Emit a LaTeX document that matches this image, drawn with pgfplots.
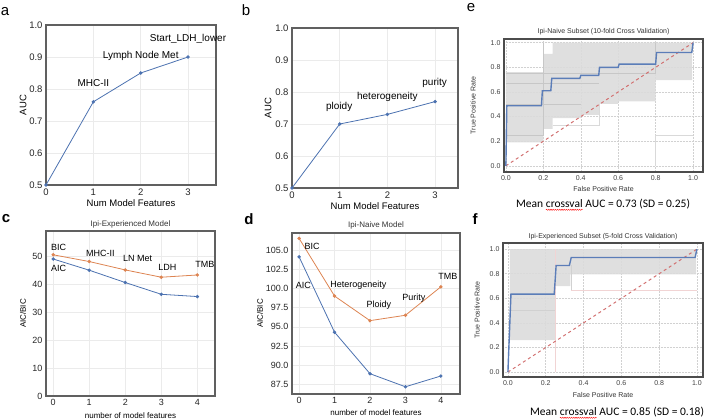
\documentclass[border=0pt]{standalone}
\usepackage{fontspec}
\setmainfont{Liberation Sans}
\newfontfamily\calib{Carlito}
\usepackage{pgfplots}
\pgfplotsset{compat=1.18}
\usetikzlibrary{decorations.pathmorphing}
\definecolor{sbblue}{HTML}{4C72B0}
\definecolor{sborange}{HTML}{DD8452}
\definecolor{rocblue}{HTML}{5B7DB8}
\definecolor{rocred}{HTML}{D27070}
\definecolor{bandgray}{HTML}{DCDCDC}
\definecolor{frame}{HTML}{606060}
\newcommand\fs[1]{\fontsize{#1}{#1}\selectfont}
\newcommand\redwave[1]{\tikz[baseline=(w.base)]{\node[inner sep=0pt, outer sep=0pt](w){#1};\draw[red, line width=0.4pt, decorate, decoration={snake, amplitude=0.6pt, segment length=2.2pt}]([yshift=-2pt]w.base west)--([yshift=-2pt]w.base east);}}
\pgfplotsset{
  base/.style={scale only axis, anchor=south west, clip=false,
    major tick length=0pt, minor tick length=0pt, grid=major,
    major grid style={draw=black!8, line width=0.5pt},
    /pgf/number format/assume math mode=true,
    tick label style={text=black!85},
    axis line style={draw=frame, line width=1.2pt}},
  xl/.style={xlabel style={at={(axis description cs:0.5,0)}, anchor=center, yshift=-#1}},
  yl/.style={ylabel style={at={(axis description cs:0,0.5)}, anchor=center, yshift=#1}},
  tl/.style={title style={at={(axis description cs:0.5,1)}, anchor=center, yshift=#1-6pt}},
  onedec/.style={#1ticklabel style={/pgf/number format/.cd,fixed,fixed zerofill,precision=1}},
  roc/.style={base,
    major grid style={draw=black!18, densely dotted, line width=0.5pt},
    xtick={0,0.2,0.4,0.6,0.8,1.0}, ytick={0,0.2,0.4,0.6,0.8,1.0},
    onedec=x, onedec=y,
    tick label style={font=\fs{7}, text=black!75},
    label style={font=\fs{7}, text=black!80},
    title style={font=\fs{7}, text=black!80},
    axis line style={draw=black!70, line width=1.2pt}},
  mline/.style={line width=0.8pt, mark=*, mark size=1.3pt},
}
\begin{document}
\begin{tikzpicture}
\useasboundingbox (0,0) rectangle (708pt,419pt);
% ---------------- a
\begin{axis}[base, at={(46pt,234pt)}, width=170pt, height=160pt,
  xmin=0, xmax=3.59, ymin=0.5, ymax=1.0, xtick={0,1,2,3},
  ytick={0.5,0.6,0.7,0.8,0.9,1.0}, onedec=y,
  tick label style={font=\fs{9.5}}, label style={font=\fs{9.5}},
  xlabel={Num Model Features}, ylabel={AUC}, xl=18pt, yl=23pt]
\addplot[sbblue, mline] coordinates {(0,0.5)(1,0.76)(2,0.85)(3,0.90)};
\node[font=\fs{10}] at (axis cs:1.0,0.818) {MHC-II};
\node[font=\fs{10}] at (axis cs:2.0,0.904) {Lymph Node Met};
\node[font=\fs{10}] at (axis cs:3.0,0.956) {Start\_LDH\_lower};
\end{axis}
% ---------------- b
\begin{axis}[base, at={(292pt,231pt)}, width=166pt, height=160pt,
  xmin=0, xmax=3.48, ymin=0.5, ymax=1.0, xtick={0,1,2,3},
  ytick={0.5,0.6,0.7,0.8,0.9,1.0}, onedec=y,
  tick label style={font=\fs{9.5}}, label style={font=\fs{9.5}},
  xlabel={Num Model Features}, ylabel={AUC}, xl=18pt, yl=24pt]
\addplot[sbblue, mline] coordinates {(0,0.5)(1,0.70)(2,0.73)(3,0.77)};
\node[font=\fs{10}] at (axis cs:0.99,0.754) {ploidy};
\node[font=\fs{10}] at (axis cs:2.0,0.786) {heterogeneity};
\node[font=\fs{10}] at (axis cs:2.99,0.827) {purity};
\end{axis}
% ---------------- c
\begin{axis}[base, at={(46pt,23pt)}, width=169pt, height=165pt,
  xmin=-0.2, xmax=4.49, ymin=0, ymax=58.9, xtick={0,1,2,3,4},
  ytick={0,10,20,30,40,50},
  tick label style={font=\fs{9}}, label style={font=\fs{8}},
  title style={font=\fs{8}, text=black!80},
  title={Ipi-Experienced Model},
  xlabel={number of model features}, ylabel={AIC/BIC}, xl=19.5pt, yl=23pt, tl=7pt]
\addplot[sborange, mline] coordinates {(0,50.4)(1,48.0)(2,45.0)(3,42.4)(4,43.2)};
\addplot[sbblue, mline] coordinates {(0,48.9)(1,44.9)(2,40.5)(3,36.3)(4,35.5)};
\node[font=\fs{9}] at (axis cs:0.15,53.0) {BIC};
\node[font=\fs{9}] at (axis cs:0.15,45.6) {AIC};
\node[font=\fs{9}] at (axis cs:1.31,51.0) {MHC-II};
\node[font=\fs{9}] at (axis cs:2.34,49.2) {LN Met};
\node[font=\fs{9}] at (axis cs:3.17,45.8) {LDH};
\node[font=\fs{9}] at (axis cs:4.21,47.0) {TMB};
\end{axis}
% ---------------- d
\begin{axis}[base, at={(292pt,25pt)}, width=168pt, height=161pt,
  xmin=-0.2, xmax=4.54, ymin=86.26, ymax=107.2, xtick={0,1,2,3,4},
  ytick={87.5,90,92.5,95,97.5,100,102.5,105}, onedec=y,
  tick label style={font=\fs{9}}, label style={font=\fs{8}},
  title style={font=\fs{8}, text=black!80},
  title={Ipi-Naive Model},
  xlabel={number of model features}, ylabel={AIC/BIC}, xl=19pt, yl=32pt, tl=8pt]
\addplot[sborange, mline] coordinates {(0,106.5)(1,99.0)(2,95.8)(3,96.5)(4,100.2)};
\addplot[sbblue, mline] coordinates {(0,104.1)(1,94.3)(2,88.9)(3,87.2)(4,88.6)};
\node[font=\fs{9}] at (axis cs:0.37,105.43) {BIC};
\node[font=\fs{9}] at (axis cs:0.12,100.44) {AIC};
\node[font=\fs{9}] at (axis cs:1.67,100.44) {Heterogeneity};
\node[font=\fs{9}] at (axis cs:2.25,97.83) {Ploidy};
\node[font=\fs{9}] at (axis cs:3.24,98.78) {Purity};
\node[font=\fs{9}] at (axis cs:4.2,101.5) {TMB};
\end{axis}
% ---------------- e
\begin{axis}[roc, at={(504pt,247pt)}, width=199pt, height=133pt,
  xmin=-0.01, xmax=1.053, ymin=-0.05, ymax=1.03,
  title={Ipi-Naive Subset (10-fold Cross Validation)},
  xlabel={False Positive Rate}, ylabel={True Positive Rate}, xl=17pt, yl=31pt, tl=7pt]
\addplot[fill=bandgray, draw=none, fill opacity=0.9] coordinates {(0,0.19)(0,0.76)(0.2,0.76)(0.2,0.91)(0.25,0.91)(0.25,1)(0.995,1)(0.995,0.695)(0.8,0.695)(0.8,0.523)(0.6,0.523)(0.6,0.504)(0.5,0.504)(0.5,0.414)(0.4,0.414)(0.4,0.387)(0.25,0.387)(0.25,0.30)(0.2,0.30)(0.2,0.19)(0,0.19)};
\addplot[black!22, line width=0.4pt] coordinates {(0,0.75)(0.8,0.75)(0.8,1)};
\addplot[black!22, line width=0.4pt] coordinates {(0,0.667)(0.5,0.667)};
\addplot[black!22, line width=0.4pt] coordinates {(0,0.5)(0.4,0.5)};
\addplot[black!22, line width=0.4pt] coordinates {(0,0.25)(0.2,0.25)(0.2,1)};
\addplot[black!15, line width=0.4pt] coordinates {(0.25,0.333)(0.5,0.333)(0.5,0.5)};
\addplot[black!15, line width=0.4pt] coordinates {(0.8,0)(0.8,0.25)(1,0.25)};
\addplot[rocred, dashed, line width=1pt] coordinates {(0,0)(1,1)};
\addplot[rocblue, line width=1.4pt] coordinates {(0,0)(0.005,0.488)(0.19,0.488)(0.195,0.61)(0.24,0.61)(0.245,0.71)(0.395,0.71)(0.40,0.734)(0.496,0.734)(0.50,0.80)(0.60,0.80)(0.605,0.826)(0.80,0.826)(0.805,0.92)(0.993,0.92)(1.0,1.0)};
\end{axis}
% ---------------- f
\begin{axis}[roc, at={(503pt,42pt)}, width=200pt, height=134pt,
  xmin=-0.026, xmax=1.032, ymin=-0.04, ymax=1.05,
  title={Ipi-Experienced Subset (5-fold Cross Validation)},
  xlabel={False Positive Rate}, ylabel={True Positive Rate}, xl=18pt, yl=26pt, tl=6pt]
\addplot[fill=bandgray, draw=none, fill opacity=0.9] coordinates {(0.01,0.26)(0.01,1)(0.995,1)(0.995,0.794)(0.33,0.794)(0.33,0.70)(0.25,0.70)(0.25,0.26)(0.01,0.26)};
\addplot[rocred!30, line width=0.5pt] coordinates {(0.25,0)(0.25,1)};
\addplot[black!18, line width=0.4pt] coordinates {(0,0.5)(0.25,0.5)};
\addplot[rocred!30, line width=0.5pt] coordinates {(0.333,0.667)(1,0.667)};
\addplot[black!18, line width=0.4pt] coordinates {(0.333,0.667)(0.333,0.87)};
\addplot[rocred, dashed, line width=1pt] coordinates {(0,0)(1,1)};
\addplot[rocblue, line width=1.4pt] coordinates {(0,0)(0.016,0.634)(0.245,0.634)(0.255,0.867)(0.325,0.867)(0.335,0.932)(0.99,0.932)(1.0,1.0)};
\end{axis}
% ---------------- texts
\node[font=\calib\fs{11.5}] at (603pt,214pt) {Mean \redwave{crossval} AUC = 0.73 (SD = 0.25)};
\node[font=\calib\fs{11.5}] at (617pt,6pt) {Mean \redwave{crossval} AUC = 0.85 (SD = 0.18)};
\node[font=\fs{15}] at (5pt,407pt) {a};
\node[font=\fs{15}] at (246pt,408.5pt) {b};
\node[font=\fs{15}] at (471pt,411pt) {e};
\node[font=\bfseries\fs{15}] at (6pt,200pt) {c};
\node[font=\bfseries\fs{15}] at (249pt,200pt) {d};
\node[font=\bfseries\fs{15}] at (475pt,200pt) {f};
\end{tikzpicture}
\end{document}
